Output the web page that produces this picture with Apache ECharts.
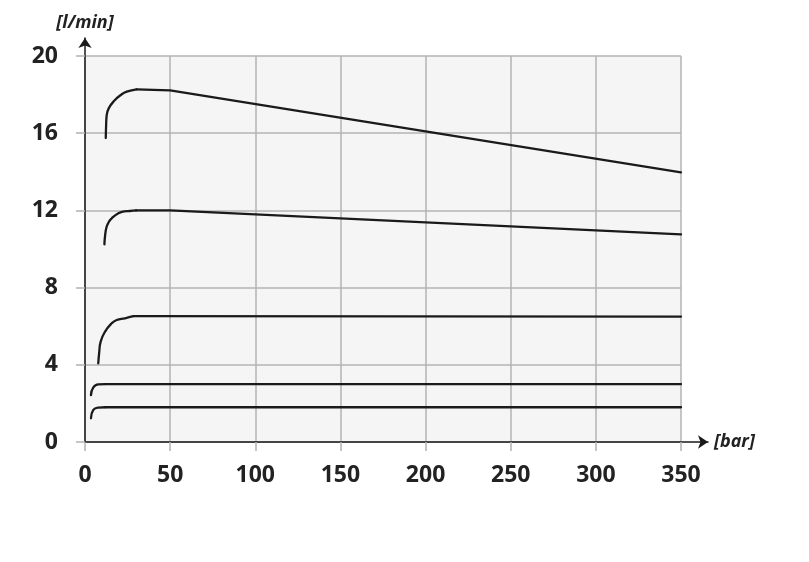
<!DOCTYPE html>
<html>
<head>
<meta charset="utf-8">
<script src="https://cdn.jsdelivr.net/npm/echarts@6/dist/echarts.min.js"></script>
<style>html,body{margin:0;padding:0;background:#fff;}#c{width:809px;height:562px;}</style>
</head>
<body>
<div id="c"></div>
<script>
var xTicks = [0, 50, 100, 150, 200, 250, 300, 350];
var yTicks = [0, 4, 8, 12, 16, 20];
var xName = '[bar]';
var yName = '[l/min]';

// Each curve: rising (curved) part and straight part
var c1RiseX = [12.2, 12.4, 12.7, 14, 17.6, 21, 24.5, 30.3];
var c1RiseY = [15.75, 16.4, 16.9, 17.3, 17.72, 17.98, 18.15, 18.27];
var c1LineX = [30.3, 50, 350];
var c1LineY = [18.27, 18.22, 13.97];

var c2RiseX = [11.4, 11.8, 12.7, 14, 15.7, 19.6, 23, 26.4, 30];
var c2RiseY = [10.24, 10.7, 11.15, 11.4, 11.59, 11.85, 11.95, 11.97, 12.0];
var c2LineX = [30, 50, 350];
var c2LineY = [12.0, 12.0, 10.76];

var c3RiseX = [7.8, 8.3, 9.2, 11.7, 15.7, 18.6, 23.5, 28.4];
var c3RiseY = [4.08, 4.6, 5.2, 5.71, 6.15, 6.32, 6.41, 6.52];
var c3LineX = [28.4, 350];
var c3LineY = [6.52, 6.5];

var c4RiseX = [3.5, 4.9, 7.8, 12];
var c4RiseY = [2.43, 2.83, 2.99, 3.0];
var c4LineX = [12, 350];
var c4LineY = [3.0, 3.0];

var c5RiseX = [3.5, 4.9, 7.8, 12];
var c5RiseY = [1.23, 1.66, 1.78, 1.8];
var c5LineX = [12, 350];
var c5LineY = [1.8, 1.8];

function pairs(xs, ys) { return xs.map(function (x, i) { return [x, ys[i]]; }); }

var parts = [
  [c1RiseX, c1RiseY, true], [c1LineX, c1LineY, false],
  [c2RiseX, c2RiseY, true], [c2LineX, c2LineY, false],
  [c3RiseX, c3RiseY, true], [c3LineX, c3LineY, false],
  [c4RiseX, c4RiseY, true], [c4LineX, c4LineY, false],
  [c5RiseX, c5RiseY, true], [c5LineX, c5LineY, false]
];
var FONT = '"Open Sans", "DejaVu Sans", sans-serif';
var gridColor = '#b3b3b3';

var series = parts.map(function (c) {
  return {
    type: 'line', xAxisIndex: 0, yAxisIndex: 0,
    data: pairs(c[0], c[1]),
    symbol: 'none', smooth: c[2] ? 0.5 : false,
    lineStyle: { color: '#1a1a1a', width: 2.3, cap: 'round', join: 'round' }
  };
});

var chart = echarts.init(document.getElementById('c'), null, { renderer: 'canvas' });
chart.setOption({
  animation: false,
  backgroundColor: '#ffffff',
  grid: [
    { left: 85, right: 128, top: 56, bottom: 120, show: true, backgroundColor: '#f5f5f5', borderWidth: 0 },
    { left: 85, right: 101, top: 38, bottom: 120 }
  ],
  xAxis: [
    {
      type: 'value', gridIndex: 0, min: xTicks[0], max: xTicks[xTicks.length - 1], interval: 50,
      axisLine: { show: false },
      axisTick: { show: true, length: 9, lineStyle: { color: gridColor, width: 1.5 } },
      splitLine: { show: true, lineStyle: { color: gridColor, width: 1.5 } },
      axisLabel: { margin: 22, color: '#222', fontSize: 23, fontWeight: 'bold', fontFamily: FONT }
    },
    {
      type: 'value', gridIndex: 1, min: 0, max: 366,
      axisLine: { show: true, symbol: ['none', 'arrow'], symbolSize: [10, 10], lineStyle: { color: '#1a1a1a', width: 1.5 } },
      axisTick: { show: false }, splitLine: { show: false }, axisLabel: { show: false },
      name: xName, nameLocation: 'end', nameGap: 6,
      nameTextStyle: { color: '#222', fontSize: 18, fontWeight: 'bold', fontStyle: 'italic', fontFamily: FONT, verticalAlign: 'middle' }
    }
  ],
  yAxis: [
    {
      type: 'value', gridIndex: 0, min: yTicks[0], max: yTicks[yTicks.length - 1], interval: 4,
      axisLine: { show: false },
      axisTick: { show: true, length: 9, lineStyle: { color: gridColor, width: 1.5 } },
      splitLine: { show: true, lineStyle: { color: gridColor, width: 1.5 } },
      axisLabel: { margin: 27, color: '#222', fontSize: 23, fontWeight: 'bold', fontFamily: FONT }
    },
    {
      type: 'value', gridIndex: 1, min: 0, max: 21,
      axisLine: { show: true, symbol: ['none', 'arrow'], symbolSize: [10, 10], lineStyle: { color: '#1a1a1a', width: 1.5 } },
      axisTick: { show: false }, splitLine: { show: false }, axisLabel: { show: false },
      name: yName, nameLocation: 'end', nameGap: 6,
      nameTextStyle: { color: '#222', fontSize: 18, fontWeight: 'bold', fontStyle: 'italic', fontFamily: FONT }
    }
  ],
  series: series
});
</script>
</body>
</html>
